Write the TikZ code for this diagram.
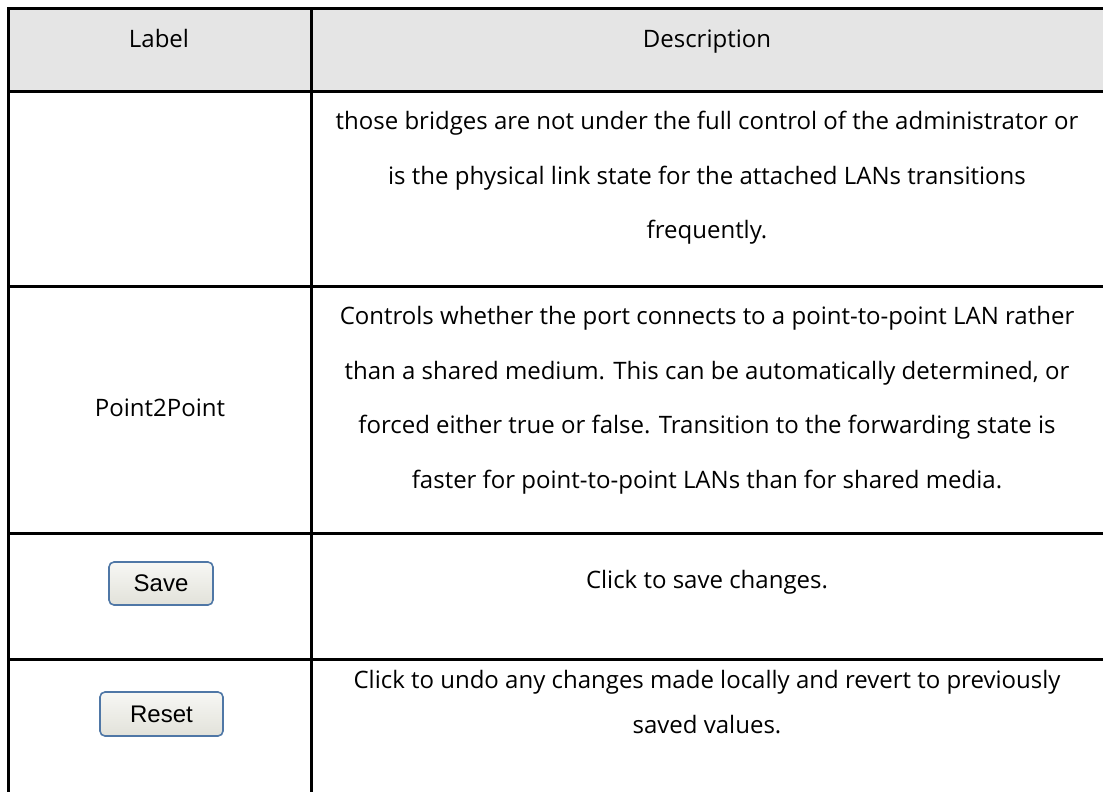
\documentclass[tikz,border=0pt]{standalone}
\usepackage{fontspec}
\setmainfont{Open Sans}
\newfontfamily\btnfont{Liberation Sans}
\definecolor{headgray}{HTML}{E5E5E5}
\definecolor{btnedge}{HTML}{4F77A6}
\definecolor{btntop}{HTML}{F7F7F4}
\definecolor{btnbot}{HTML}{E2E2DA}
\tikzset{
  rule/.style={line width=3pt, line cap=rect},
  celltext/.style={font=\fontsize{24}{28}\selectfont, anchor=base, inner sep=0pt},
  button/.style={draw=btnedge, line width=1.6pt, rounded corners=5pt,
    top color=btntop, bottom color=btnbot, inner sep=0pt,
    font=\btnfont\fontsize{24}{28}\selectfont},
}
\begin{document}
\begin{tikzpicture}[x=1pt,y=-1pt]
\useasboundingbox (0,0) rectangle (1103,792);
% header band
\fill[headgray] (8,9) rectangle (1103,91);
% horizontal rules
\draw[rule] (8,9) -- (1110,9);
\draw[rule] (8,91) -- (1110,91);
\draw[rule] (8,286) -- (1110,286);
\draw[rule] (8,533) -- (1110,533);
\draw[rule] (8,659) -- (1110,659);
% vertical rules
\draw[rule] (8,9) -- (8,800);
\draw[rule] (311,9) -- (311,800);

% header
\node[celltext] (hlabel) at (159,48) {Label};
\node[celltext] (hdesc) at (707,48) {Description};

% row 1
\node[celltext] (r1a) at (707,129) {those bridges are not under the full control of the administrator or};
\node[celltext] (r1b) at (707,184) {is the physical link state for the attached LANs transitions};
\node[celltext] (r1c) at (707,238) {frequently.};

% row 2
\node[celltext] (r2label) at (160,416) {Point2Point};
\node[celltext] (r2a) at (707,324) {Controls whether the port connects to a point-to-point LAN rather};
\node[celltext] (r2b) at (707,379) {than a shared medium. This can be automatically determined, or};
\node[celltext] (r2c) at (707,433) {forced either true or false. Transition to the forwarding state is};
\node[celltext] (r2d) at (707,488) {faster for point-to-point LANs than for shared media.};

% row 3
\node[button, minimum width=104pt, minimum height=43pt] (save) at (161,583.5) {Save};
\node[celltext] (r3a) at (707,588) {Click to save changes.};

% row 4
\node[button, minimum width=123pt, minimum height=44pt] (reset) at (161.5,714) {Reset};
\node[celltext] (r4a) at (707,688) {Click to undo any changes made locally and revert to previously};
\node[celltext] (r4b) at (707,733) {saved values.};
\end{tikzpicture}
\end{document}
